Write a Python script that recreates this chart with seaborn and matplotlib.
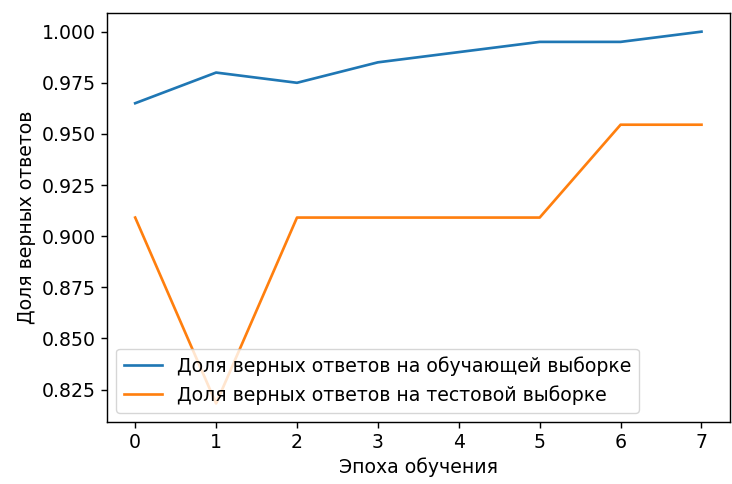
import matplotlib
matplotlib.use("Agg")
import matplotlib.pyplot as plt
import seaborn as sns
import pandas as pd

epochs = [0, 1, 2, 3, 4, 5, 6, 7]
train_acc = [0.965, 0.980, 0.975, 0.985, 0.990, 0.995, 0.995, 1.000]
test_acc = [0.9091, 0.8182, 0.9091, 0.9091, 0.9091, 0.9091, 0.9545, 0.9545]
train_label = "Доля верных ответов на обучающей выборке"
test_label = "Доля верных ответов на тестовой выборке"

scale = 1.28
plt.rcParams.update({
    "font.family": ["DejaVu Sans"],
    "font.size": 13.6,
    "axes.linewidth": 0.8 * scale,
    "xtick.major.width": 0.8 * scale,
    "ytick.major.width": 0.8 * scale,
    "xtick.major.size": 3.5 * scale,
    "ytick.major.size": 3.5 * scale,
})

df = pd.DataFrame({
    "epoch": epochs * 2,
    "acc": train_acc + test_acc,
    "series": [train_label] * len(epochs) + [test_label] * len(epochs),
})

fig = plt.figure(figsize=(7.32, 4.84), dpi=100)
ax = fig.add_axes([0.146, 0.128, 0.851, 0.845])
sns.lineplot(data=df, x="epoch", y="acc", hue="series",
             palette=["#1f77b4", "#ff7f0e"], linewidth=1.5 * scale, ax=ax)
ax.set_xlabel("Эпоха обучения")
ax.set_ylabel("Доля верных ответов")
ax.legend(loc="lower left", title=None)
fig.savefig("out.png", dpi=100)
